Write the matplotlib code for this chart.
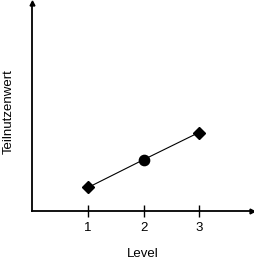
import matplotlib
matplotlib.use('Agg')
import matplotlib.pyplot as plt

# data
levels = [1, 2, 3]
werte = [0.85, 1.85, 2.83]
marker_typ = ['D', 'o', 'D']

plt.rcParams['font.family'] = ['Liberation Sans', 'DejaVu Sans']
plt.rcParams['font.size'] = 9.5

fig = plt.figure(figsize=(2.54, 2.59), dpi=100)
ax = fig.add_axes([0.1248, 0.1853, 0.8673, 0.803])

ax.plot(levels, werte, color='black', linewidth=0.8, zorder=2)
for x, y, m in zip(levels, werte, marker_typ):
    ms = 5.8 if m == 'D' else 7.4
    ax.plot(x, y, marker=m, color='black', markersize=ms, linestyle='none', zorder=3)

ax.set_xlim(-0.02, 3.96)
ax.set_ylim(0, 7.5)

for s in ['top', 'right']:
    ax.spines[s].set_visible(False)
for s in ['left', 'bottom']:
    ax.spines[s].set_linewidth(1.3)
    ax.spines[s].set_color('black')

# small arrow heads at the axis ends
ax.plot(1, 0, '>k', markersize=3.5, transform=ax.transAxes, clip_on=False)
ax.plot(0, 1, '^k', markersize=3.5, transform=ax.transAxes, clip_on=False)

ax.set_xticks(levels)
ax.set_xticklabels([str(l) for l in levels])
ax.tick_params(axis='x', direction='inout', length=9, width=1, pad=3.4, labelsize=9.5)
ax.set_yticks([])

ax.set_xlabel('Level', fontsize=9.5)
ax.xaxis.set_label_coords(0.505, -0.176)
ax.set_ylabel('Teilnutzenwert', fontsize=9.5)
ax.yaxis.set_label_coords(-0.078, 0.48)

fig.savefig('out.png', dpi=100)
